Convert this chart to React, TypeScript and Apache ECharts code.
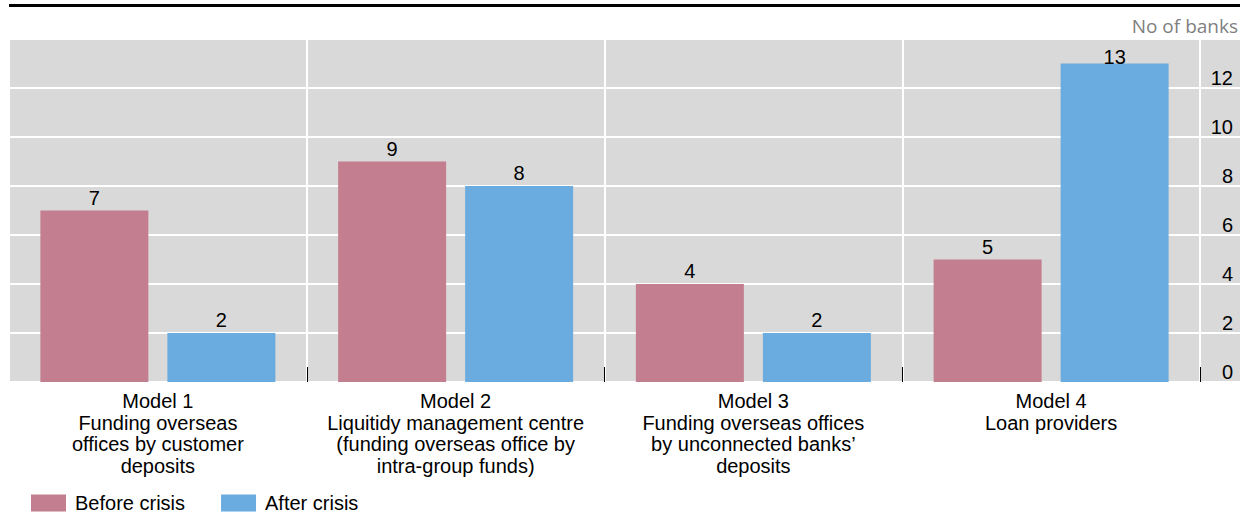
import React, { useEffect, useRef } from "react";
import * as echarts from "echarts";

const categories = [
  "Model 1\nFunding overseas\noffices by customer\ndeposits",
  "Model 2\nLiquitidy management centre\n(funding overseas office by\nintra-group funds)",
  "Model 3\nFunding overseas offices\nby unconnected banks’\ndeposits",
  "Model 4\nLoan providers",
];
const beforeCrisis = [7, 9, 4, 5];
const afterCrisis = [2, 8, 2, 13];
const seriesNames = ["Before crisis", "After crisis"];
const unitLabel = "No of banks";

const PINK = "#C37F8F";
const BLUE = "#6AACE0";
const FONT = "'Liberation Sans', Arial, sans-serif";
const FS = 20;

const withLabelFit = (vals: number[]) =>
  vals.map((v) => (v > 12.5 ? { value: v, label: { distance: -3 } } : v));

export default function App() {
  const ref = useRef<HTMLDivElement>(null);
  useEffect(() => {
    if (!ref.current) return;
    const chart = echarts.init(ref.current, undefined, { renderer: "svg" });
    const barLabel = { show: true, position: "top", distance: 3, fontSize: FS, color: "#000", fontFamily: FONT };
    chart.setOption({
      animation: false,
      textStyle: { fontFamily: FONT },
      graphic: [
        {
          type: "rect",
          shape: { x: 9, y: 4, width: 1231, height: 3 },
          style: { fill: "#000" },
        },
        {
          type: "text",
          right: 11,
          top: 16,
          style: {
            text: unitLabel,
            fill: "#7f7f7f",
            font: "19px 'Open Sans', 'Noto Sans', sans-serif",
          },
        },
      ],
      legend: {
        data: seriesNames,
        left: 31,
        top: 493,
        padding: 0,
        itemWidth: 35,
        itemHeight: 17,
        itemGap: 36,
        textStyle: { fontSize: FS, lineHeight: 17, color: "#000", fontFamily: FONT, padding: [0, 0, 0, 4] },
        icon: "rect",
      },
      grid: [
        { left: 9, right: 49, top: 39, bottom: 132 },
        {
          left: 9,
          right: 9,
          top: 39,
          bottom: 132,
          show: true,
          backgroundColor: "#D9D9D9",
          borderWidth: 0,
        },
      ],
      xAxis: [
        {
          gridIndex: 0,
          type: "category",
          data: categories,
          axisLine: { show: false },
          axisTick: {
            show: true,
            inside: true,
            length: 15,
            lineStyle: { color: "#000", width: 1 },
            interval: (i: number) => i !== 0,
          },
          splitLine: { show: true, lineStyle: { color: "#fff", width: 2 } },
          axisLabel: {
            fontSize: FS,
            lineHeight: 21.7,
            color: "#000",
            margin: 8,
            interval: 0,
            fontFamily: FONT,
          },
        },
        { gridIndex: 1, type: "value", show: false },
      ],
      yAxis: [
        { gridIndex: 0, type: "value", min: 0, max: 14, interval: 2, show: false },
        {
          gridIndex: 1,
          type: "value",
          position: "right",
          min: 0,
          max: 14,
          interval: 2,
          axisLine: { show: false },
          axisTick: { show: false },
          splitLine: { show: true, lineStyle: { color: "#fff", width: 2 } },
          axisLabel: {
            inside: true,
            margin: 7,
            fontSize: FS,
            color: "#000",
            verticalAlign: "bottom",
            fontFamily: FONT,
            formatter: (v: number) => (v === 14 ? "" : String(v)),
          },
        },
      ],
      series: [
        {
          name: seriesNames[0],
          type: "bar",
          xAxisIndex: 0,
          yAxisIndex: 0,
          data: withLabelFit(beforeCrisis),
          barWidth: 108,
          barGap: "17.6%",
          itemStyle: { color: PINK },
          label: barLabel,
        },
        {
          name: seriesNames[1],
          type: "bar",
          xAxisIndex: 0,
          yAxisIndex: 0,
          data: withLabelFit(afterCrisis),
          barWidth: 108,
          barGap: "17.6%",
          itemStyle: { color: BLUE },
          label: barLabel,
        },
      ],
    });
    return () => chart.dispose();
  }, []);
  return <div ref={ref} style={{ width: 1249, height: 514, position: "absolute", left: 0, top: 0 }} />;
}
